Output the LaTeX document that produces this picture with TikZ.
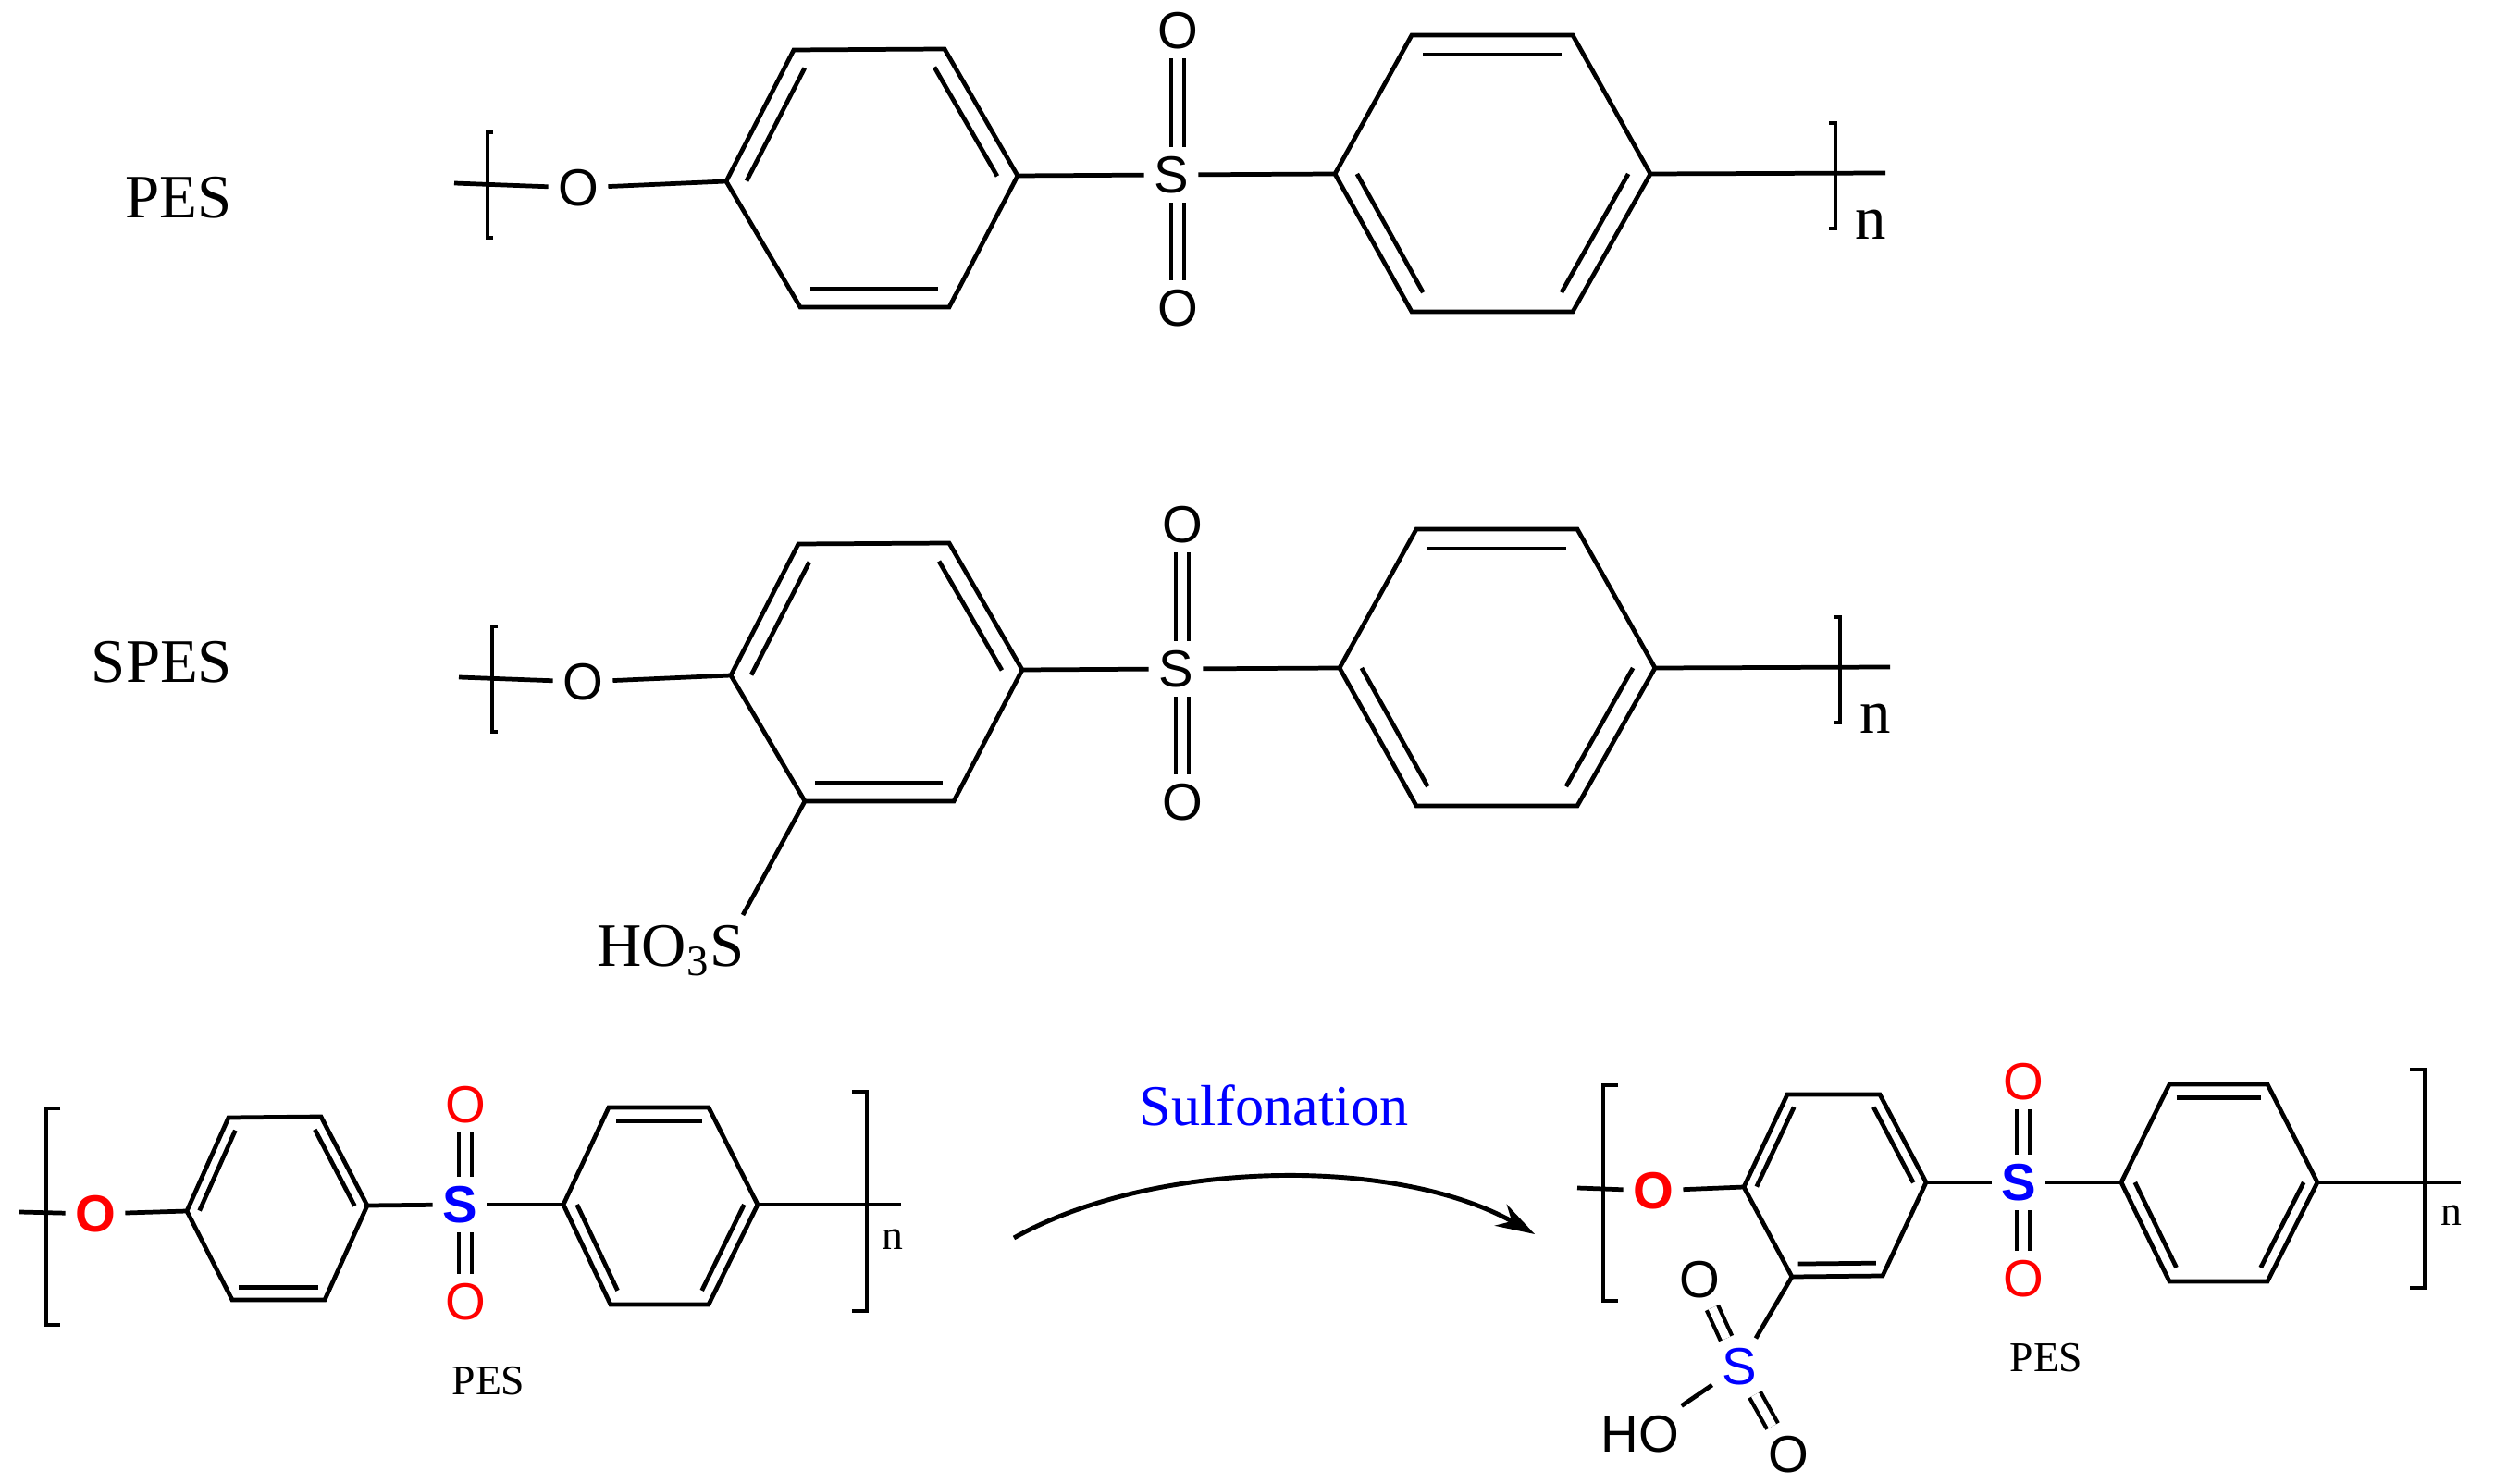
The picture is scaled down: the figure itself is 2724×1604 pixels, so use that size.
\documentclass[tikz,border=0pt]{standalone}
\usepackage{fontspec}
\setmainfont{Liberation Serif}
\newfontfamily\atomfont{Liberation Sans}
\usetikzlibrary{calc,arrows.meta}

% ring: name, six corners (left, then clockwise), list of double bonds
\newcommand{\benzene}[8]{
  \coordinate (#1-1) at (#2);
  \coordinate (#1-2) at (#3);
  \coordinate (#1-3) at (#4);
  \coordinate (#1-4) at (#5);
  \coordinate (#1-5) at (#6);
  \coordinate (#1-6) at (#7);
  \coordinate (#1-c) at ($(#1-1)!0.5!(#1-4)$);
  \draw[bond] (#1-1) -- (#1-2) -- (#1-3) -- (#1-4) -- (#1-5) -- (#1-6) -- cycle;
  \foreach \a/\b in {#8}
    \draw[bond] ($(#1-\a)!0.14!(#1-c)$) -- ($(#1-\b)!0.14!(#1-c)$);
}

\begin{document}
\begin{tikzpicture}[x=0.01cm, y=-0.01cm,
    bond/.style={line width=1.35pt},
    dbond/.style={double, line width=1.2pt, double distance=2.6pt},
    bracket/.style={line width=1pt},
    heavybracket/.style={line width=1.3pt},
    atom/.style={inner sep=2.8pt, font=\atomfont\fontsize{16}{16}\selectfont},
    redatom/.style={atom, text=red},
    blueatom/.style={atom, text=blue},
    boldred/.style={atom, text=red, font=\atomfont\bfseries\fontsize{16}{16}\selectfont},
    boldblue/.style={atom, text=blue, font=\atomfont\bfseries\fontsize{16}{16}\selectfont},
    biglabel/.style={font=\fontsize{19}{19}\selectfont, inner sep=0pt},
    smalllabel/.style={font=\fontsize{13}{13}\selectfont, inner sep=0pt}]

\useasboundingbox (0,0) rectangle (2724,1604);

% Upper two chains, same drawing
\foreach \row/\dx/\dy in {a/0/0,b/5/534} {
\begin{scope}[shift={(\dx,\dy)}]
  \benzene{\row1}{785,196}{858,54}{1021,53}{1100,190}{1026,332}{865,332}{1/2,3/4,5/6}
  \benzene{\row2}{1443,188}{1526,38}{1700,38}{1784,188}{1700,337}{1526,337}{2/3,4/5,6/1}

  \node[atom] (\row oxy) at (625,203) {O};
  \node[atom] (\row sul) at (1266,189) {S};
  \node[atom] (\row otop) at (1273,33) {O};
  \node[atom] (\row olow) at (1273,333) {O};
  \coordinate (\row ltail) at (491,198);
  \coordinate (\row rtail) at (2038,187);

  \draw[bond] (\row ltail) -- (\row oxy);
  \draw[bond] (\row oxy) -- (\row1-1);
  \draw[bond] (\row1-4) -- (\row sul);
  \draw[bond] (\row sul) -- (\row2-1);
  \draw[bond] (\row2-4) -- (\row rtail);
  \draw[dbond] (\row otop) -- (\row otop |- \row sul.north);
  \draw[dbond] (\row olow) -- (\row olow |- \row sul.south);

  \draw[bracket] (533,143) -- (527,143) -- (527,257) -- (533,257);
  \draw[bracket] (1977,133) -- (1984,133) -- (1984,247) -- (1977,247);
  \node[biglabel] (\row n) at (2022,243) {n};
\end{scope}
}

% Labels of the chains
\node[biglabel] (peslabel) at (193,214) {PES};
\node[biglabel] (speslabel) at (175,716) {SPES};
\node[biglabel] (hoss) at (725,1028) {HO\textsubscript{3}S};
\coordinate (hossend) at (803,989);
\draw[bond] (b1-6) -- (hossend);

% Lower left chain
\benzene{c1}{202,1309}{247,1208}{347,1207}{397,1303}{351,1405}{251,1405}{1/2,3/4,5/6}
\benzene{c2}{609,1302}{658,1197}{766,1197}{819,1302}{766,1410}{660,1410}{2/3,4/5,6/1}
\node[boldred] (coxy) at (103,1312) {O};
\node[boldblue] (csul) at (497,1302) {S};
\node[redatom] (cotop) at (503,1194) {O};
\node[redatom] (colow) at (503,1407) {O};
\coordinate (cltail) at (21,1310);
\coordinate (crtail) at (974,1302);
\draw[bond] (cltail) -- (coxy);
\draw[bond] (coxy) -- (c1-1);
\draw[bond] (c1-4) -- (csul);
\draw[bond] (csul) -- (c2-1);
\draw[bond] (c2-4) -- (crtail);
\draw[dbond] (cotop) -- (cotop |- csul.north);
\draw[dbond] (colow) -- (colow |- csul.south);
\draw[heavybracket] (65,1198) -- (50,1198) -- (50,1432) -- (65,1432);
\draw[heavybracket] (921,1180) -- (937,1180) -- (937,1417) -- (921,1417);
\node[smalllabel] (cn) at (965,1340) {n};
\node[smalllabel] (cpes) at (528,1493) {PES};

% Reaction arrow
\node[font=\fontsize{17.7}{17.7}\selectfont, text=blue, inner sep=0pt] (sulfon) at (1377,1195) {Sulfonation};
\coordinate (arrstart) at (1096,1338);
\coordinate (arrend) at (1659,1334);
\draw[line width=1.4pt, -{Stealth[length=12pt, width=7.5pt]}] (arrstart) .. controls (1250,1252) and (1510,1250) .. (arrend);

% Lower right chain
\benzene{d1}{1885,1283}{1932,1183}{2032,1183}{2082,1278}{2035,1379}{1937,1380}{1/2,3/4,5/6}
\benzene{d2}{2293,1278}{2345,1172}{2451,1172}{2505,1278}{2451,1385}{2345,1385}{2/3,4/5,6/1}
\node[boldred] (doxy) at (1787,1287) {O};
\node[boldblue] (dsul) at (2182,1278) {S};
\node[redatom] (dotop) at (2187,1169) {O};
\node[redatom] (dolow) at (2187,1382) {O};
\coordinate (dltail) at (1705,1284);
\coordinate (drtail) at (2660,1278);
\draw[bond] (dltail) -- (doxy);
\draw[bond] (doxy) -- (d1-1);
\draw[bond] (d1-4) -- (dsul);
\draw[bond] (dsul) -- (d2-1);
\draw[bond] (d2-4) -- (drtail);
\draw[dbond] (dotop) -- (dotop |- dsul.north);
\draw[dbond] (dolow) -- (dolow |- dsul.south);
\draw[heavybracket] (1749,1173) -- (1733,1173) -- (1733,1406) -- (1749,1406);
\draw[heavybracket] (2605,1156) -- (2621,1156) -- (2621,1392) -- (2605,1392);
\node[smalllabel] (dn) at (2650,1314) {n};
\node[smalllabel] (dpes) at (2212,1468) {PES};

% Sulfonic group
\node[blueatom] (ssul) at (1880,1477) {S};
\node[atom] (soa) at (1837,1383) {O};
\node[atom] (sob) at (1933,1572) {O};
\node[atom] (soh) at (1773,1550) {HO};
\draw[bond] (d1-6) -- (ssul);
\draw[bond] (ssul) -- (soh);
\draw[dbond] (soa) -- (ssul);
\draw[dbond] (sob) -- (ssul);

\end{tikzpicture}
\end{document}
